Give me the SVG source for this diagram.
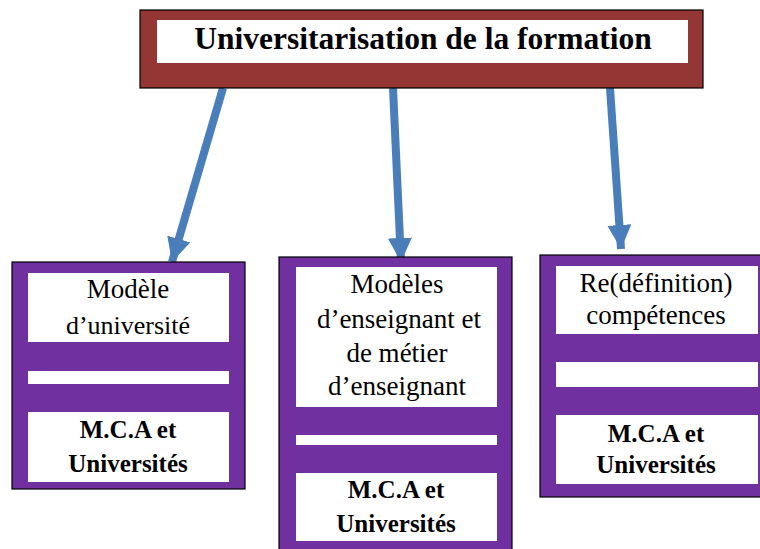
<svg xmlns="http://www.w3.org/2000/svg" width="760" height="549" viewBox="0 0 760 549">
<defs>
<style>
.outer{fill:#7030A0;stroke:#000;stroke-width:1.2}
.wh{fill:#fff}
.f{font-family:"Liberation Serif","Times New Roman",Times,"DejaVu Serif",serif;fill:#000;text-anchor:middle}
.t{font-size:27px}
.b{font-size:25px;font-weight:bold}
.conn{stroke:#4A7EBB;stroke-width:8;fill:none}
</style>
<marker id="ah" viewBox="0 0 10 10" refX="10" refY="5" markerWidth="3" markerHeight="3" orient="auto" markerUnits="strokeWidth">
<path d="M0,0 L10,5 L0,10 Z" fill="#4A7EBB"/>
</marker>
</defs>
<rect width="760" height="549" fill="#fff"/>
<g id="connectors">
<line class="conn" x1="223" y1="88" x2="172" y2="262" marker-end="url(#ah)"/>
<line class="conn" x1="393" y1="88" x2="401" y2="262" marker-end="url(#ah)"/>
<line class="conn" x1="610" y1="88" x2="621" y2="249" marker-end="url(#ah)"/>
</g>
<g id="top">
<rect x="140" y="10" width="563" height="78" fill="#943634" stroke="#000" stroke-width="1.2"/>
<rect x="157" y="20" width="531" height="43" class="wh"/>
<text class="f" x="423" y="49" font-size="31.5" font-weight="bold">Universitarisation de la formation</text>
</g>
<g id="box1">
<rect class="outer" x="12" y="262" width="233" height="227"/>
<rect class="wh" x="28" y="273" width="201" height="69"/>
<rect class="wh" x="28" y="371" width="201" height="13"/>
<rect class="wh" x="28" y="412" width="201" height="70"/>
<text class="f t" x="128" y="298" font-size="26">Modèle</text>
<text class="f t" x="128" y="334" style="font-size:26px">d’université</text>
<text class="f b" x="128" y="438">M.C.A et</text>
<text class="f b" x="128" y="472">Universités</text>
</g>
<g id="box2">
<rect class="outer" x="279" y="257" width="233" height="300"/>
<rect class="wh" x="296" y="267" width="201" height="140"/>
<rect class="wh" x="296" y="435" width="201" height="10"/>
<rect class="wh" x="296" y="473" width="201" height="68"/>
<text class="f t" x="397" y="293">Modèles</text>
<text class="f t" x="399" y="328">d’enseignant et</text>
<text class="f t" x="397" y="362">de métier</text>
<text class="f t" x="397" y="395">d’enseignant</text>
<text class="f b" x="396" y="498">M.C.A et</text>
<text class="f b" x="396" y="532">Universités</text>
</g>
<g id="box3">
<rect class="outer" x="540" y="255" width="230" height="242"/>
<rect class="wh" x="556" y="266" width="202" height="68"/>
<rect class="wh" x="556" y="362" width="202" height="25"/>
<rect class="wh" x="556" y="415" width="202" height="69"/>
<text class="f t" x="656" y="292">Re(définition)</text>
<text class="f t" x="656" y="324">compétences</text>
<text class="f b" x="656" y="442">M.C.A et</text>
<text class="f b" x="656" y="473">Universités</text>
</g>
</svg>
